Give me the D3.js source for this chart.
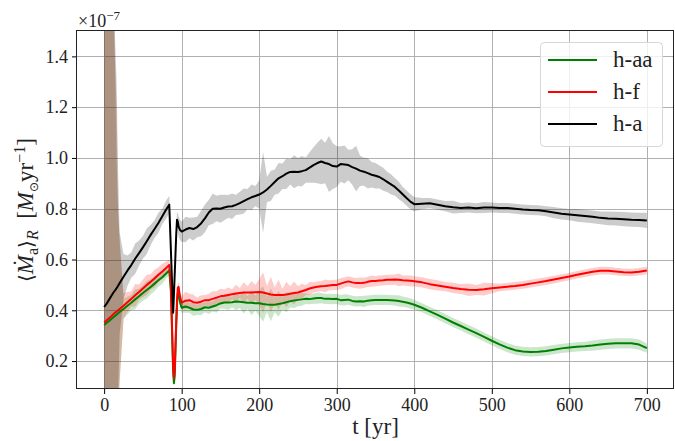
<!DOCTYPE html>
<html>
<head>
<meta charset="utf-8">
<script src="https://cdn.jsdelivr.net/npm/d3@7"></script>
<style>
  body { margin: 0; background: #fff; }
  svg { display: block; }
  svg text { font-family: "Liberation Serif", serif; }
</style>
</head>
<body>
<svg id="chart" width="675" height="441"></svg>
<script>
// Time samples (yr)
const years = [0,3,6,9,12,14,16,18,20,25,30,35,40,45,50,55,60,65,70,75,80,84,
  86,87,88,89,90,91,92,93,94,95,96,98,
  100,105,110,115,120,125,130,135,140,145,150,155,160,165,170,175,180,185,190,195,
  200,205,210,215,220,225,230,235,240,245,250,255,260,265,270,275,280,285,290,295,
  300,305,310,315,320,325,330,335,340,345,350,355,360,365,370,375,380,385,390,395,400,
  410,420,430,440,450,460,470,480,490,500,510,520,530,540,550,560,570,580,590,600,
  610,620,630,640,650,660,670,680,690,700];

// h-aa : radially averaged accretion rate (units of 1e-7 Msun/yr) and its spread
const haaMean = [.342,.35,.357,.365,.373,.378,.383,.388,.393,.405,.418,.43,.443,.455,.468,.48,.492,.505,.518,.53,.545,.557,
  .48,.38,.27,.16,.113,.14,.24,.34,.42,.468,.472,.43,
  .41,.415,.41,.403,.402,.405,.412,.41,.415,.42,.427,.431,.431,.432,.435,.434,.432,.43,.43,.428,
  .428,.425,.423,.422,.422,.425,.428,.432,.436,.439,.441,.443,.445,.444,.446,.448,.448,.445,.445,.444,
  .445,.44,.441,.442,.437,.435,.436,.435,.438,.44,.441,.441,.441,.441,.44,.439,.437,.434,.431,.427,.422,
  .41,.396,.382,.367,.352,.338,.324,.31,.295,.28,.266,.253,.243,.238,.236,.237,.24,.245,.25,.253,
  .256,.258,.261,.265,.268,.27,.27,.27,.265,.251];
const haaStd = [2.0,2.0,2.0,2.0,1.25,1.0,.6,.4,.28,.04,.035,.03,.04,.03,.03,.035,.03,.03,.025,.025,.02,.02,
  .015,.01,.01,.01,.01,.01,.01,.01,.015,.02,.02,.02,
  .02,.025,.02,.025,.02,.025,.02,.025,.02,.03,.02,.025,.03,.02,.035,.025,.045,.025,.05,.03,
  .05,.07,.03,.065,.03,.05,.025,.04,.025,.03,.025,.025,.02,.02,.02,.022,.02,.02,.02,.02,
  .02,.02,.022,.02,.02,.02,.02,.022,.02,.02,.02,.02,.02,.02,.02,.02,.022,.02,.02,.02,.02,
  .018,.018,.018,.018,.018,.018,.018,.018,.018,.018,.018,.018,.018,.018,.018,.018,.018,.018,.018,.018,
  .018,.018,.02,.02,.02,.02,.02,.02,.02,.018];

// h-f
const hfMean = [.352,.36,.368,.376,.385,.39,.395,.40,.405,.418,.432,.445,.459,.472,.486,.50,.512,.525,.54,.553,.567,.579,
  .50,.40,.29,.18,.133,.16,.26,.36,.44,.488,.492,.452,
  .43,.438,.44,.432,.43,.434,.44,.44,.445,.45,.455,.457,.46,.463,.466,.468,.47,.47,.47,.471,
  .472,.47,.466,.462,.46,.46,.46,.462,.465,.468,.47,.475,.48,.486,.49,.493,.495,.496,.498,.50,
  .50,.505,.51,.514,.51,.507,.507,.508,.512,.515,.515,.517,.518,.52,.52,.521,.52,.518,.517,.516,.514,
  .51,.503,.498,.493,.488,.484,.481,.48,.483,.487,.49,.493,.496,.50,.505,.51,.515,.521,.527,.533,
  .54,.546,.552,.556,.556,.553,.55,.549,.552,.557];
const hfStd = [2.0,2.0,2.0,2.0,1.25,1.0,.82,.4,.28,.05,.04,.03,.045,.03,.035,.04,.03,.035,.03,.03,.025,.02,
  .015,.01,.01,.01,.01,.01,.01,.01,.015,.02,.02,.02,
  .025,.035,.025,.03,.02,.025,.02,.025,.03,.025,.03,.025,.03,.02,.035,.02,.04,.025,.045,.03,
  .05,.08,.03,.07,.03,.06,.025,.05,.03,.045,.025,.03,.02,.025,.02,.02,.02,.025,.02,.02,
  .02,.022,.02,.02,.02,.02,.022,.02,.02,.022,.02,.02,.02,.02,.02,.02,.025,.02,.02,.022,.02,
  .02,.02,.02,.018,.02,.02,.025,.02,.025,.02,.015,.015,.015,.015,.015,.015,.015,.015,.015,.015,
  .015,.015,.015,.015,.015,.015,.015,.015,.015,.015];

// h-a
const haMean = [.413,.425,.44,.455,.47,.478,.487,.497,.507,.532,.556,.578,.603,.625,.648,.672,.697,.72,.744,.77,.797,.816,
  .645,.56,.475,.39,.46,.54,.62,.70,.757,.748,.73,.716,
  .71,.718,.724,.72,.728,.742,.762,.785,.80,.801,.80,.805,.809,.81,.815,.822,.83,.838,.845,.85,
  .856,.864,.876,.89,.905,.92,.928,.938,.945,.946,.945,.948,.952,.962,.972,.98,.986,.98,.976,.968,
  .966,.976,.974,.972,.964,.958,.95,.946,.94,.934,.93,.925,.916,.906,.896,.886,.872,.857,.842,.828,.818,
  .82,.822,.816,.81,.806,.803,.805,.802,.805,.805,.803,.803,.80,.797,.795,.794,.79,.785,.78,.777,
  .774,.771,.768,.764,.762,.761,.759,.757,.756,.754];
const haStd = [2.0,2.0,2.0,2.0,1.25,1.0,.82,.45,.2,.09,.06,.05,.06,.05,.045,.05,.04,.035,.04,.03,.035,.035,
  .03,.025,.02,.02,.02,.02,.02,.025,.03,.035,.04,.04,
  .04,.05,.04,.045,.04,.05,.055,.05,.06,.05,.055,.05,.045,.05,.04,.045,.05,.04,.05,.04,
  .055,.16,.05,.06,.05,.06,.05,.06,.05,.065,.055,.06,.05,.06,.07,.08,.09,.08,.11,.09,
  .08,.07,.075,.06,.07,.09,.06,.055,.06,.05,.05,.045,.045,.04,.04,.035,.035,.03,.03,.03,.028,
  .022,.02,.02,.02,.025,.02,.02,.02,.022,.02,.02,.02,.02,.02,.02,.02,.02,.022,.022,.022,
  .025,.025,.025,.025,.027,.027,.028,.028,.028,.03];

const seriesNames = ["h-aa", "h-f", "h-a"];
const seriesColors = ["#008000", "#ff0000", "#000000"];
const xTicks = [0, 100, 200, 300, 400, 500, 600, 700];
const yTicks = [0.2, 0.4, 0.6, 0.8, 1.0, 1.2, 1.4];

const series = [
  { name: seriesNames[0], color: seriesColors[0], mean: haaMean, std: haaStd },
  { name: seriesNames[1], color: seriesColors[1], mean: hfMean,  std: hfStd  },
  { name: seriesNames[2], color: seriesColors[2], mean: haMean,  std: haStd  }
];

const M = { left: 77, right: 674, top: 31, bottom: 389 };
const serif = '"Liberation Serif", serif';
const symbolFont = '"DejaVu Sans", sans-serif';

const x = d3.scaleLinear().domain([-35, 735]).range([M.left, M.right]);
const y = d3.scaleLinear().domain([0.09, 1.5]).range([M.bottom, M.top]);

const svg = d3.select("#chart");

svg.append("defs").append("clipPath").attr("id", "plotArea")
  .append("rect")
  .attr("x", M.left).attr("y", M.top)
  .attr("width", M.right - M.left).attr("height", M.bottom - M.top);

// grid lines
const grid = svg.append("g").attr("stroke", "#b0b0b0").attr("stroke-width", 1);
grid.selectAll("line.gx").data(xTicks).join("line").attr("class", "gx")
  .attr("x1", d => Math.round(x(d)) + 0.5).attr("x2", d => Math.round(x(d)) + 0.5)
  .attr("y1", M.top).attr("y2", M.bottom);
grid.selectAll("line.gy").data(yTicks).join("line").attr("class", "gy")
  .attr("y1", d => Math.round(y(d)) + 0.5).attr("y2", d => Math.round(y(d)) + 0.5)
  .attr("x1", M.left).attr("x2", M.right);

const plot = svg.append("g").attr("clip-path", "url(#plotArea)");

// spread bands (mean ± std)
series.forEach(s => {
  const band = d3.area()
    .x((d, i) => x(years[i]))
    .y0((d, i) => y(s.mean[i] - s.std[i]))
    .y1((d, i) => y(s.mean[i] + s.std[i]));
  plot.append("path")
    .attr("d", band(years))
    .attr("fill", s.color)
    .attr("fill-opacity", 0.2);
});

// mean curves
series.forEach(s => {
  const line = d3.line()
    .x((d, i) => x(years[i]))
    .y((d, i) => y(s.mean[i]));
  plot.append("path")
    .attr("d", line(years))
    .attr("fill", "none")
    .attr("stroke", s.color)
    .attr("stroke-width", 2)
    .attr("stroke-linejoin", "round");
});

// axes
const xAxis = svg.append("g")
  .attr("transform", `translate(0,${M.bottom})`)
  .call(d3.axisBottom(x).tickValues(xTicks).tickSize(5).tickPadding(4.5).tickFormat(d3.format("d")));
xAxis.attr("font-family", null);
xAxis.select(".domain").remove();
xAxis.selectAll("line").attr("stroke", "#000");
xAxis.selectAll("text").style("font-family", serif).style("font-size", "18px").attr("fill", "#222");

const yAxis = svg.append("g")
  .attr("transform", `translate(${M.left},0)`)
  .call(d3.axisLeft(y).tickValues(yTicks).tickSize(5).tickPadding(4).tickFormat(d3.format(".1f")));
yAxis.attr("font-family", null);
yAxis.select(".domain").remove();
yAxis.selectAll("line").attr("stroke", "#000");
yAxis.selectAll("text").style("font-family", serif).style("font-size", "18px").attr("fill", "#222");

// frame
svg.append("rect")
  .attr("x", M.left - 0.5).attr("y", M.top - 0.5)
  .attr("width", M.right - M.left).attr("height", M.bottom - M.top)
  .attr("fill", "none").attr("stroke", "#222").attr("stroke-width", 1);

// offset label
const off = svg.append("text").attr("x", 78).attr("y", 27)
  .style("font-family", serif).style("font-size", "18px").attr("fill", "#222");
off.append("tspan").text("×10");
off.append("tspan").attr("dy", -7).style("font-size", "13px").text("−7");

// x label
svg.append("text")
  .attr("x", (M.left + M.right) / 2).attr("y", 434)
  .attr("text-anchor", "middle")
  .style("font-family", serif).style("font-size", "23px").attr("fill", "#222")
  .text("t [yr]");

// y label
const yl = svg.append("text")
  .attr("transform", `translate(33,${(M.top + M.bottom) / 2}) rotate(-90)`)
  .attr("text-anchor", "middle")
  .style("font-family", serif).style("font-size", "23px").attr("fill", "#222");
yl.append("tspan").style("font-family", symbolFont).style("font-size", "20px").text("⟨");
yl.append("tspan").style("font-style", "italic").text("Ṁ");
yl.append("tspan").style("font-size", "16px").attr("dy", 5).text("a");
yl.append("tspan").attr("dy", -5).style("font-family", symbolFont).style("font-size", "20px").text("⟩");
yl.append("tspan").style("font-style", "italic").style("font-size", "16px").attr("dy", 5).text("R");
yl.append("tspan").attr("dy", -5).text("\u2002[");
yl.append("tspan").style("font-style", "italic").text("M");
yl.append("tspan").style("font-family", symbolFont).style("font-size", "12px").attr("dy", 5).text("⊙");
yl.append("tspan").attr("dy", -5).text("yr");
yl.append("tspan").style("font-size", "16px").attr("dy", -8).text("−1");
yl.append("tspan").attr("dy", 8).text("]");

// legend
const lg = svg.append("g");
lg.append("rect")
  .attr("x", 540.5).attr("y", 42.5).attr("width", 122).attr("height", 104).attr("rx", 4)
  .attr("fill", "#fff").attr("fill-opacity", 0.8)
  .attr("stroke", "#d6d6d6").attr("stroke-width", 1);
series.forEach((s, i) => {
  const yy = 60 + i * 32;
  lg.append("line")
    .attr("x1", 548).attr("x2", 597).attr("y1", yy).attr("y2", yy)
    .attr("stroke", s.color).attr("stroke-width", 2);
  lg.append("text")
    .attr("x", 613).attr("y", yy + 7)
    .style("font-family", serif).style("font-size", "23px").attr("fill", "#222")
    .text(s.name);
});
</script>
</body>
</html>
